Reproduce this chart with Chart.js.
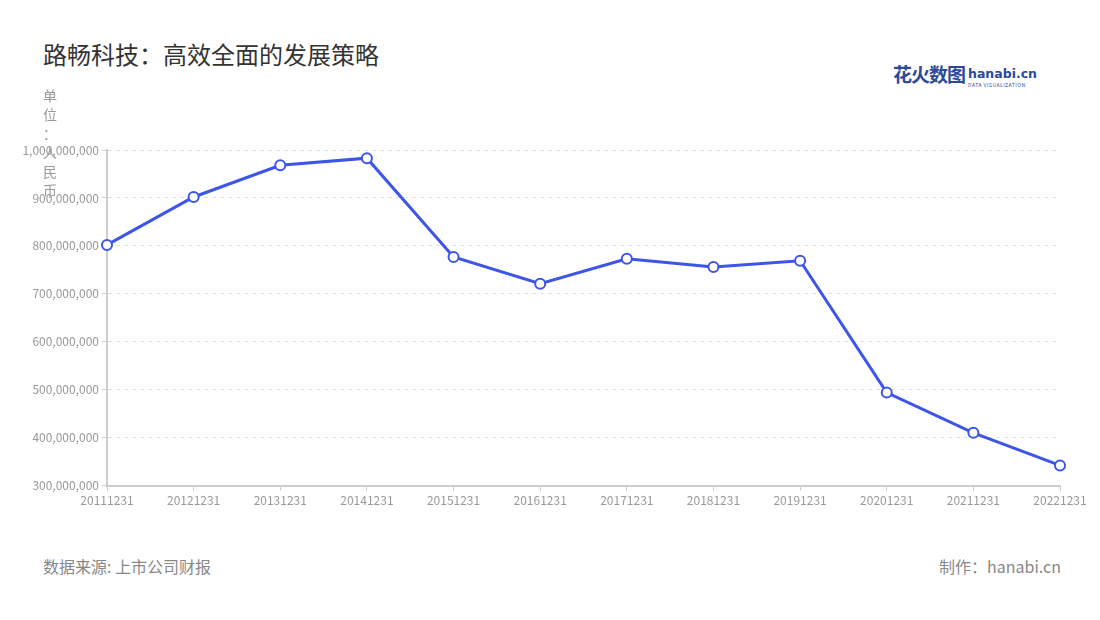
<!DOCTYPE html>
<html>
<head>
<meta charset="utf-8">
<script src="https://cdn.jsdelivr.net/npm/chart.js@4.4.1/dist/chart.umd.min.js"></script>
<style>
  html, body { margin: 0; padding: 0; background: #fff; }
  body { width: 1100px; height: 620px; position: relative; overflow: hidden;
         font-family: "Noto Sans CJK SC", "Noto Sans", sans-serif; }
  #title { position: absolute; left: 43px; top: 36px; font-size: 24px; color: #333; }
  #logo { position: absolute; left: 893px; top: 60px; white-space: nowrap; }
  #logo .cn { font-size: 19px; font-weight: bold; color: #2b4a9a; letter-spacing: -1px; }
  #logo .en { display: inline-block; vertical-align: top; margin-left: 3px; margin-top: 3px; line-height: 1; }
  #logo .en b { font-family: "DejaVu Sans", sans-serif; font-size: 12.5px; color: #2b4a9a; }
  #logo .en i { display: block; font-style: normal; font-size: 5px; color: #2b4a9a; letter-spacing: 0.5px; margin-top: 1px; }
  #unit { position: absolute; left: 42px; top: 86px; width: 16px; font-size: 14px; color: #999;
          line-height: 19px; text-align: center; }
  #source { position: absolute; left: 43px; top: 554px; font-size: 16px; color: #888; }
  #maker { position: absolute; right: 39px; top: 554px; font-size: 16px; color: #888; }
  #wrap { position: absolute; left: 0; top: 130px; width: 1100px; height: 381px; }
</style>
</head>
<body>
<div id="title">路畅科技：高效全面的发展策略</div>
<div id="logo"><span class="cn">花火数图</span><span class="en"><b>hanabi.cn</b><i>DATA VISUALIZATION</i></span></div>
<div id="wrap"><canvas id="chart"></canvas></div>
<div id="unit">单<br>位<br>：<br>人<br>民<br>币</div>
<div id="source">数据来源: 上市公司财报</div>
<div id="maker">制作：hanabi.cn</div>
<script>
// Données
const categories = ['20111231', '20121231', '20131231', '20141231', '20151231', '20161231',
                    '20171231', '20181231', '20191231', '20201231', '20211231', '20221231'];
const revenue = [802000000, 902000000, 968000000, 983000000, 777000000, 721000000,
                 773000000, 756000000, 769000000, 494000000, 410000000, 342000000];
const yMin = 300000000;
const yMax = 1000000000;
const yStep = 100000000;

const tickFont = { family: '"Noto Sans CJK SC", "Noto Sans", sans-serif', size: 12 };

new Chart(document.getElementById('chart'), {
  type: 'line',
  data: {
    labels: categories,
    datasets: [{
      data: revenue,
      borderColor: '#3d55e8',
      borderWidth: 3,
      backgroundColor: '#fff',
      pointBackgroundColor: '#fff',
      pointBorderColor: '#3d55e8',
      pointBorderWidth: 2,
      pointRadius: 5,
      tension: 0
    }]
  },
  options: {
    responsive: true,
    maintainAspectRatio: false,
    animation: false,
    layout: { padding: { top: 20, right: 40, left: 0, bottom: 0 } },
    plugins: {
      legend: { display: false },
      tooltip: { enabled: false }
    },
    scales: {
      x: {
        offset: false,
        grid: { drawOnChartArea: false, drawTicks: true, tickLength: 5, color: '#ccc', lineWidth: 1 },
        border: { color: '#ccc', width: 2 },
        ticks: { color: '#999', font: tickFont, maxRotation: 0, autoSkip: false, padding: 3 }
      },
      y: {
        min: yMin,
        max: yMax,
        afterFit(scale) { scale.width = 107; },
        grid: { color: '#e0e0e0', tickLength: 5, tickColor: '#ccc', tickBorderDash: [] },
        border: { color: '#ccc', width: 2, dash: [4, 4] },
        ticks: {
          stepSize: yStep,
          color: '#999',
          font: tickFont,
          padding: 3,
          callback: v => v.toLocaleString('en-US')
        }
      }
    }
  }
});
</script>
</body>
</html>
